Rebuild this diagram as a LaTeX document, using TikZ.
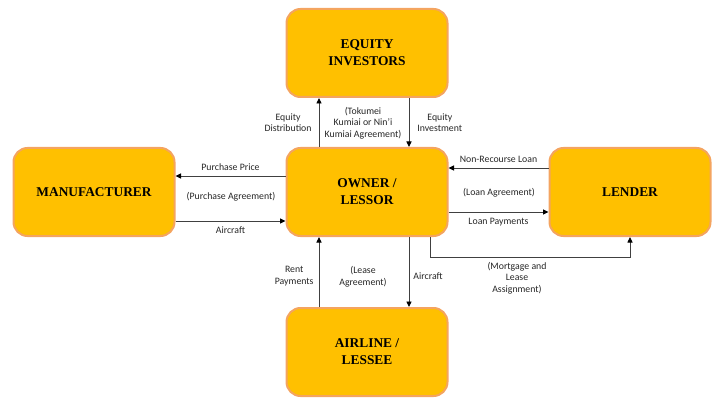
\documentclass[tikz,border=0pt]{standalone}
\usepackage{fontspec}
\setmainfont{Carlito}
\newfontfamily\partyfont{Liberation Serif}
\usepackage{tkz-euclide}
\usetikzlibrary{arrows.meta}

\definecolor{partyfill}{HTML}{FFC000}
\definecolor{partyedge}{HTML}{F4A460}
\tikzset{
  party/.style={draw=partyedge, line width=2pt, fill=partyfill, rounded corners=14pt,
    minimum width=161pt, minimum height=88pt, align=center,
    font=\partyfont\bfseries\fontsize{13.4}{17}\selectfont},
  flow/.style={draw=black!75, line width=0.9pt, -{Triangle[length=5.5pt,width=5pt,black]}},
  lbl/.style={font=\fontsize{9.8}{11.5}\selectfont, align=center, text=black!85, inner sep=1pt}
}

\begin{document}
\begin{tikzpicture}[x=1pt,y=-1pt]
\useasboundingbox (0,0) rectangle (717,398);

\tkzDefPoint(367,53){E}
\tkzDefPoint(367,192){O}
\tkzDefPoint(94,192){M}
\tkzDefPoint(630,192){L}
\tkzDefPoint(367,352){A}
\tkzDefPoint(363,123){T}
\tkzDefPoint(231,197){P}
\tkzDefPoint(499,193){K}
\tkzDefPoint(363,277){S}
\tkzDefPoint(517,278){G}

\node[party] (equity) at (E) {EQUITY\\INVESTORS};
\node[party] (owner) at (O) {OWNER /\\LESSOR};
\node[party] (maker) at (M) {MANUFACTURER};
\node[party] (lender) at (L) {LENDER};
\node[party] (airline) at (A) {AIRLINE /\\LESSEE};

\draw[flow] ([xshift=-48pt]owner.north) -- ([xshift=-48pt]equity.south)
  node[lbl,midway,left=6pt] {Equity\\Distribution};
\draw[flow] ([xshift=42pt]equity.south) -- ([xshift=42pt]owner.north)
  node[lbl,midway,right=7pt] {Equity\\Investment};
\node[lbl] (tokumei) at (T) {(Tokumei\\Kumiai or Nin’i\\Kumiai Agreement)};

\draw[flow] ([yshift=16pt]owner.west) -- ([yshift=16pt]maker.east)
  node[lbl,midway,above=4pt] {Purchase Price};
\draw[flow] ([yshift=-29pt]maker.east) -- ([yshift=-29pt]owner.west)
  node[lbl,midway,below=4pt] {Aircraft};
\node[lbl] (purchase) at (P) {(Purchase Agreement)};

\draw[flow] ([yshift=24pt]lender.west) -- ([yshift=24pt]owner.east)
  node[lbl,midway,above=4pt] {Non-Recourse Loan};
\draw[flow] ([yshift=-20pt]owner.east) -- ([yshift=-20pt]lender.west)
  node[lbl,midway,below=5pt] {Loan Payments};
\node[lbl] (loan) at (K) {(Loan Agreement)};

\draw[flow] ([xshift=63pt]owner.south) -- ++(0,20) -| (lender.south);
\node[lbl] (mortgage) at (G) {(Mortgage and\\Lease\\Assignment)};

\draw[flow] ([xshift=42pt]owner.south) -- ([xshift=42pt]airline.north)
  node[lbl,pos=0.56,right=3pt] {Aircraft};
\draw[flow] ([xshift=-48pt]airline.north) -- ([xshift=-48pt]owner.south)
  node[lbl,pos=0.44,left=4pt] {Rent\\Payments};
\node[lbl] (lease) at (S) {(Lease\\Agreement)};

\end{tikzpicture}
\end{document}
